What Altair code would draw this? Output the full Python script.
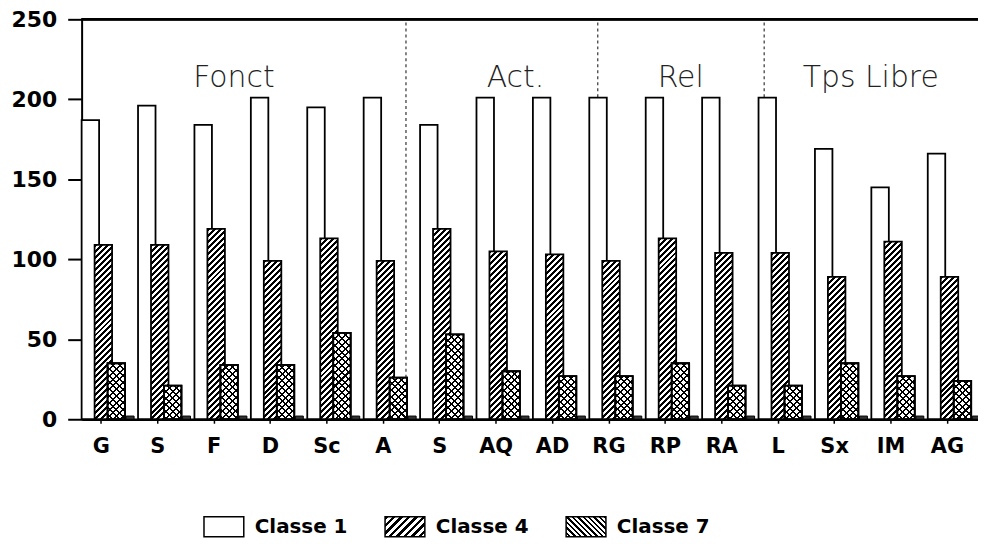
import json
import altair as alt
import pandas as pd

# ---------------- data ----------------
categories = ["G", "S", "F", "D", "Sc", "A", "S", "AQ", "AD", "RG", "RP", "RA", "L", "Sx", "IM", "AG"]
classe1 = [187, 196, 184, 201, 195, 201, 184, 201, 201, 201, 201, 201, 201, 169, 145, 166]
classe4 = [109, 109, 119, 99, 113, 99, 119, 105, 103, 99, 113, 104, 104, 89, 111, 89]
classe7 = [35, 21, 34, 34, 54, 26, 53, 30, 27, 27, 35, 21, 21, 35, 27, 24]
reste = [2, 2, 2, 2, 2, 2, 2, 2, 2, 2, 2, 2, 2, 2, 2, 2]
series_names = ["Classe 1", "Classe 4", "Classe 7"]
group_names = ["Fonct", "Act.", "Rel", "Tps Libre"]
y_ticks = [0, 50, 100, 150, 200, 250]

# ---------------- layout (not data) ----------------
W, H = 901, 402
STEP_PX = 56.7
X_MAX = W / STEP_PX
PPU = H / 250.0
BAR_W = 0.31
BAR_W_PX = BAR_W * STEP_PX
offsets = {"Classe 1": 0.0, "Classe 4": 0.23, "Classe 7": 0.46}
reste_span = (0.79, 0.93)
tick_pos = 0.34
group_label_x = [2.7, 7.69, 10.62, 13.99]
group_label_y = 213
separator_x = [5.75, 9.15, 12.1]

rows = []
for name, vals in zip(series_names, [classe1, classe4, classe7]):
    for i, v in enumerate(vals):
        rows.append({"series": name, "idx": i, "value": v,
                     "x0": i + offsets[name], "x1": i + offsets[name] + BAR_W})
for i, v in enumerate(reste):
    rows.append({"series": "reste", "idx": i, "value": v,
                 "x0": i + reste_span[0], "x1": i + reste_span[1]})
df = pd.DataFrame(rows)

groups_df = pd.DataFrame({"label": group_names, "pos": group_label_x})
sep_df = pd.DataFrame({"pos": separator_x})
legend_df = pd.DataFrame({"series": series_names})


def make_stops(n, frac, dark, light):
    s = []
    for k in range(n):
        a, b, c = k / n, (k + frac) / n, (k + 1) / n
        s += [{"offset": round(a, 5), "color": dark}, {"offset": round(b, 5), "color": dark},
              {"offset": round(b, 5), "color": light}, {"offset": round(c, 5), "color": light}]
    return s


H_REF = 420.0
TRANSP = "rgba(0,0,0,0)"
p_hatch4 = alt.param(name="hatch4", value=make_stops(70, 0.5, "black", "white"))
p_hatch7 = alt.param(name="hatch7", value=make_stops(62, 0.3, "black", TRANSP))
p_leg4 = alt.param(name="leg4", value=make_stops(8, 0.5, "black", "white"))
p_leg7 = alt.param(name="leg7", value=make_stops(11, 0.45, "black", "white"))


def hatch_expr(direction, stops):
    h = f"(max(datum.value,1)*{PPU:.4f})"
    r = f"({BAR_W_PX:.3f}/{h})"
    k = f"({H_REF}/({h}*(1+{r}*{r})))"
    if direction == "/":
        x1, y1, x2, y2 = "0", "0", f"{k}*{r}", k
    else:
        x1, y1, x2, y2 = "1", "0", f"1-{k}*{r}", k
    return f"{{gradient:'linear', x1:{x1}, y1:{y1}, x2:{x2}, y2:{y2}, stops:{stops}}}"


x_scale = alt.Scale(domain=[0, X_MAX], nice=False, zero=False)
y_scale = alt.Scale(domain=[0, 250], nice=False)

x_axis = alt.Axis(values=[i + tick_pos for i in range(len(categories))],
                  labelExpr=f"{json.dumps(categories)}[floor(datum.value)]",
                  title=None, grid=False, tickSize=4, tickWidth=1.5, tickColor="black",
                  domainWidth=2.5, domainColor="black", labelFont="DejaVu Sans",
                  labelFontWeight="bold", labelFontSize=21, labelColor="black",
                  labelPadding=12, labelFlush=False, labelOverlap=False)
y_axis = alt.Axis(values=y_ticks, title=None, grid=False, tickSize=14, tickWidth=2,
                  tickColor="black", domainWidth=2, domainColor="black",
                  labelFont="DejaVu Sans", labelFontWeight="bold", labelFontSize=22,
                  labelColor="black", labelPadding=11)

base = alt.Chart(df)
enc = dict(x=alt.X("x0:Q", scale=x_scale, axis=x_axis), x2="x1:Q",
           y=alt.Y("value:Q", scale=y_scale, axis=y_axis), y2=alt.datum(0))

seps = alt.Chart(sep_df).mark_rule(strokeDash=[3, 3], strokeWidth=1.2, color="#333").encode(
    x=alt.X("pos:Q", scale=x_scale), y=alt.datum(248), y2=alt.datum(0))

c1 = base.transform_filter(alt.datum.series == "Classe 1").mark_bar(
    fill="white", stroke="black", strokeWidth=1.8).encode(**enc)
c4 = base.transform_filter(alt.datum.series == "Classe 4").mark_bar(
    fill={"expr": hatch_expr("/", "hatch4")}, stroke="black", strokeWidth=1.8).encode(**enc)
c7a = base.transform_filter(alt.datum.series == "Classe 7").mark_bar(
    fill="white", stroke="black", strokeWidth=1.8).encode(**enc)
c7b = base.transform_filter(alt.datum.series == "Classe 7").mark_bar(
    fill={"expr": hatch_expr("/", "hatch7")}).encode(**enc)
c7c = base.transform_filter(alt.datum.series == "Classe 7").mark_bar(
    fill={"expr": hatch_expr("\\", "hatch7")}, stroke="black", strokeWidth=1.8).encode(**enc)
cr = base.transform_filter(alt.datum.series == "reste").mark_bar(
    fill="#333", stroke="black", strokeWidth=1).encode(**enc)

top_rule = alt.Chart(sep_df).mark_rule(color="black", strokeWidth=2.5).encode(y=alt.datum(250))

labels = alt.Chart(groups_df).mark_text(
    font="DejaVu Sans", fontSize=30, fontWeight=200, color="#222",
    align="center", baseline="middle").encode(
    x=alt.X("pos:Q", scale=x_scale), y=alt.datum(group_label_y), text="label:N")

leg4_expr = "{gradient:'linear', x1:0, y1:0, x2:1.2, y2:0.6, stops:leg4}"
leg7_expr = "{gradient:'linear', x1:1, y1:0, x2:-0.2, y2:0.6, stops:leg7}"
legend_layer = alt.Chart(legend_df).mark_square(
    size=0, opacity=0, stroke="black", strokeWidth=1.5).encode(
    color=alt.Color("series:N",
                    scale=alt.Scale(domain=series_names,
                                    range=["white", {"expr": leg4_expr}, {"expr": leg7_expr}]),
                    legend=alt.Legend(title=None, orient="none", legendX=122, legendY=489,
                                      direction="horizontal",
                                      symbolType="M-1,-0.5H1V0.5H-1Z", symbolSize=1600,
                                      symbolStrokeColor="black", symbolStrokeWidth=1.5,
                                      symbolOpacity=1, labelFont="DejaVu Sans",
                                      labelFontWeight="bold", labelFontSize=20,
                                      labelColor="black", labelOffset=10,
                                      columnPadding=34)))

chart = alt.layer(seps, c1, c4, c7a, c7b, c7c, cr, top_rule, labels, legend_layer).add_params(
    p_hatch4, p_hatch7, p_leg4, p_leg7
).properties(
    width=W, height=H,
    autosize=alt.AutoSizeParams(type="none"),
    padding={"left": 74, "top": 10, "right": 0, "bottom": 120},
    background="white",
).configure_view(stroke=None)

chart.save("out.html", embed_options={"renderer": "svg", "actions": False})
